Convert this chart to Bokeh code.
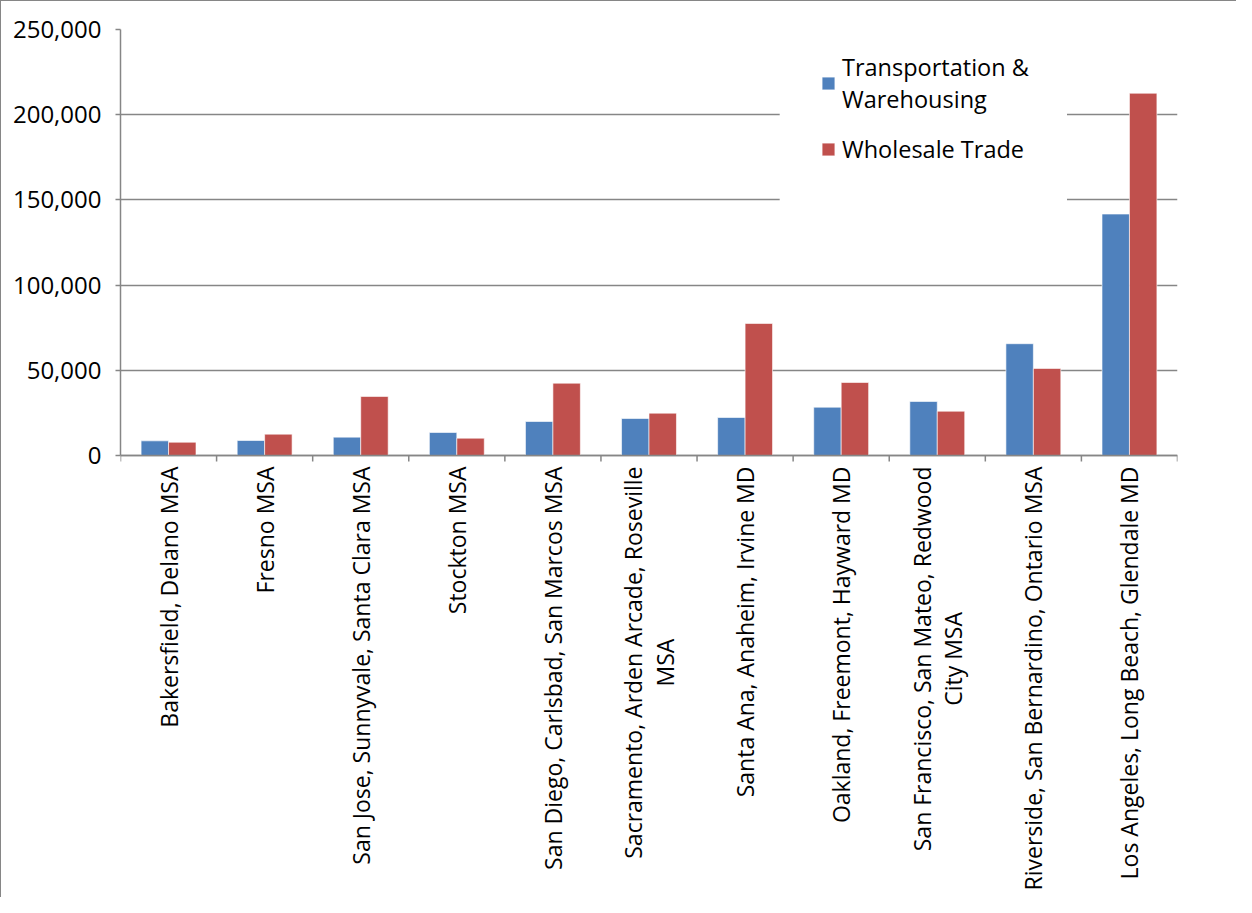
import math
from bokeh.plotting import figure
from bokeh.models import (Range1d, FixedTicker, NumeralTickFormatter, Legend,
                          LegendItem, BoxAnnotation, ColumnDataSource, Label, Span)
from bokeh.embed import file_html
from bokeh.resources import INLINE

categories = [
    "Bakersfield, Delano MSA",
    "Fresno MSA",
    "San Jose, Sunnyvale, Santa Clara MSA",
    "Stockton MSA",
    "San Diego, Carlsbad, San Marcos MSA",
    "Sacramento, Arden Arcade, Roseville\nMSA",
    "Santa Ana, Anaheim, Irvine MD",
    "Oakland, Freemont, Hayward MD",
    "San Francisco, San Mateo, Redwood\nCity MSA",
    "Riverside, San Bernardino, Ontario MSA",
    "Los Angeles, Long Beach, Glendale MD",
]
transportation = [8600, 8800, 10750, 13500, 19950, 21700, 22300, 28350, 31700, 65600, 141700]
wholesale = [7800, 12500, 34650, 10150, 42450, 24850, 77500, 42850, 26000, 51100, 212600]
series_names = ["Transportation &\nWarehousing", "Wholesale Trade"]
y_ticks = [0, 50000, 100000, 150000, 200000, 250000]

FONT = "Open Sans"
GRID = "#868686"
BLUE = "#4F81BD"
RED = "#C0504D"
LABEL_SIZE = "23px"

n = len(categories)
idx = list(range(n))
bar_w = 1 / 3.5

# layout (pixels)
W, H = 1236, 897
TOP = 28
PLOT_H = 426               # height of the value area (0 .. Y_MAX)
FRAME_H = H - TOP          # frame also holds the category labels below zero
Y_MAX = 250000
UNIT = Y_MAX / PLOT_H      # data units per pixel
Y_MIN = -(FRAME_H - PLOT_H) * UNIT

src = ColumnDataSource(dict(
    xb=[i - bar_w / 2 for i in idx],
    xr=[i + bar_w / 2 for i in idx],
    t=transportation,
    w=wholesale,
))

p = figure(width=W, height=H, output_backend="svg", toolbar_location=None,
           x_range=Range1d(-0.5, n - 0.5), y_range=Range1d(Y_MIN, Y_MAX),
           x_axis_location=None,
           min_border_left=119, min_border_top=TOP, min_border_right=60,
           min_border_bottom=0)
p.styles = {"border-top": "1px solid #868686", "border-left": "1px solid #868686"}
p.outline_line_color = None
p.background_fill_color = "white"

# white area behind the legend (interrupts gridlines)
box = BoxAnnotation(left=6.36, right=9.35, bottom=147500, top=242000,
                    fill_color="white", fill_alpha=1.0, line_color=None,
                    level="underlay")
p.add_layout(box)

rb = p.vbar(x="xb", top="t", width=bar_w, source=src, fill_color=BLUE,
            line_color="white", line_alpha=0.6, line_width=1)
rr = p.vbar(x="xr", top="w", width=bar_w, source=src, fill_color=RED,
            line_color="white", line_alpha=0.6, line_width=1)

# grids
p.xgrid.visible = False
p.ygrid.ticker = FixedTicker(ticks=y_ticks)
p.ygrid.grid_line_color = GRID
p.ygrid.grid_line_width = 1.5

# y axis
ya = p.yaxis[0]
ya.bounds = (0, Y_MAX)
ya.ticker = FixedTicker(ticks=y_ticks)
ya.formatter = NumeralTickFormatter(format="0,0")
ya.axis_line_color = GRID
ya.axis_line_width = 1.5
ya.major_tick_line_color = GRID
ya.major_tick_line_width = 1.5
ya.major_tick_out = 5
ya.major_tick_in = 0
ya.minor_tick_line_color = None
ya.major_label_text_font = FONT
ya.major_label_text_font_size = "24px"
ya.major_label_text_color = "black"
ya.major_label_standoff = 14

# category axis: line at zero, tick marks between categories, rotated labels
p.add_layout(Span(location=0, dimension="width", line_color=GRID, line_width=1.5))
bounds = [i - 0.5 for i in range(n + 1)]
p.segment(x0=bounds, y0=[0] * len(bounds), x1=bounds, y1=[-6 * UNIT] * len(bounds),
          line_color=GRID, line_width=1.5)
for i, c in zip(idx, categories):
    p.add_layout(Label(x=i, y=-11 * UNIT, text=c, angle=math.pi / 2,
                       text_align="center", anchor="center_right",
                       text_font=FONT, text_font_size=LABEL_SIZE,
                       text_color="black", text_line_height=0.98))

legend = Legend(items=[LegendItem(label=series_names[0], renderers=[rb]),
                       LegendItem(label=series_names[1], renderers=[rr])],
                location=(700, 290 + (FRAME_H - PLOT_H)), orientation="vertical",
                border_line_color=None, background_fill_alpha=0,
                label_text_font=FONT, label_text_font_size="23.5px",
                label_text_color="black", glyph_width=16, glyph_height=16,
                label_standoff=6, spacing=18, padding=9, margin=0,
                label_text_line_height=1.36)
p.add_layout(legend)

open("out.html", "w").write(file_html(p, INLINE))
